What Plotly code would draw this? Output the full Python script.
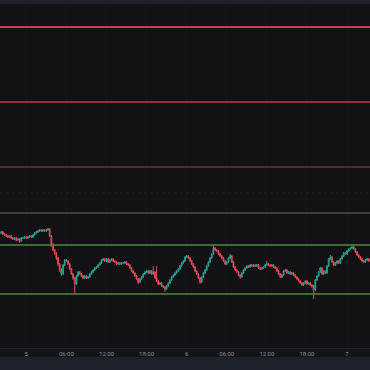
import plotly.graph_objects as go
import pandas as pd

# 15-minute candles starting 2024-03-04 20:00
start_time = "2024-03-04 20:00"

close = [
    2217, 2218, 2216, 2215, 2214, 2213, 2214, 2212, 2211, 2212,
    2210, 2211, 2209, 2212, 2212, 2213, 2212, 2213, 2214, 2213,
    2215, 2217, 2218, 2219, 2220, 2219, 2220, 2219, 2220, 2221,
    2214, 2205, 2200, 2197, 2192, 2186, 2180, 2176, 2185, 2190,
    2189, 2186, 2181, 2176, 2172, 2166, 2174, 2178, 2176, 2174,
    2172, 2174, 2172, 2173, 2176, 2178, 2180, 2182, 2183, 2185,
    2187, 2190, 2191, 2189, 2191, 2188, 2190, 2191, 2189, 2188,
    2186, 2187, 2186, 2187, 2187, 2188, 2186, 2185, 2182, 2179,
    2177, 2174, 2171, 2168, 2171, 2173, 2176, 2178, 2179, 2177,
    2179, 2176, 2178, 2172, 2169, 2166, 2167, 2164, 2163, 2161,
    2164, 2167, 2170, 2173, 2175, 2177, 2179, 2181, 2184, 2187,
    2189, 2193, 2194, 2192, 2189, 2186, 2183, 2179, 2176, 2172,
    2168, 2173, 2177, 2180, 2184, 2188, 2192, 2196, 2202, 2200,
    2199, 2196, 2194, 2192, 2189, 2186, 2188, 2192, 2194, 2188,
    2183, 2180, 2178, 2175, 2173, 2177, 2180, 2182, 2184, 2183,
    2185, 2184, 2185, 2184, 2185, 2182, 2181, 2182, 2183, 2185,
    2186, 2185, 2184, 2185, 2183, 2182, 2179, 2176, 2173, 2175,
    2179, 2180, 2177, 2178, 2176, 2177, 2175, 2173, 2171, 2169,
    2167, 2165, 2167, 2169, 2166, 2167, 2165, 2164, 2160, 2170,
    2174, 2178, 2182, 2176, 2179, 2177, 2184, 2191, 2193, 2188,
    2185, 2187, 2189, 2187, 2191, 2194, 2197, 2196, 2199, 2201,
    2202, 2203, 2201, 2198, 2195, 2193, 2191, 2189, 2188, 2190,
    2191, 2189,
]

open_ = [2216] + close[:-1]

high = [
    2218, 2219, 2219, 2217, 2216, 2215, 2215, 2215, 2213, 2213,
    2213, 2212, 2212, 2213, 2213, 2214, 2214, 2214, 2215, 2215,
    2216, 2218, 2219, 2220, 2221, 2221, 2221, 2221, 2221, 2222,
    2222, 2215, 2207, 2201, 2198, 2193, 2187, 2182, 2186, 2191,
    2191, 2190, 2187, 2182, 2177, 2173, 2175, 2179, 2179, 2177,
    2175, 2175, 2175, 2174, 2177, 2179, 2181, 2183, 2184, 2186,
    2188, 2191, 2192, 2192, 2192, 2192, 2191, 2192, 2192, 2190,
    2189, 2188, 2188, 2188, 2188, 2189, 2189, 2187, 2186, 2183,
    2180, 2178, 2175, 2172, 2172, 2174, 2177, 2179, 2180, 2180,
    2180, 2180, 2184, 2179, 2184, 2170, 2168, 2168, 2165, 2164,
    2165, 2168, 2171, 2174, 2176, 2178, 2180, 2182, 2185, 2188,
    2190, 2194, 2195, 2195, 2193, 2190, 2187, 2184, 2180, 2177,
    2173, 2174, 2178, 2181, 2185, 2189, 2193, 2197, 2205, 2203,
    2201, 2200, 2197, 2195, 2193, 2190, 2189, 2193, 2196, 2195,
    2189, 2184, 2181, 2179, 2176, 2178, 2181, 2183, 2185, 2185,
    2186, 2186, 2186, 2186, 2186, 2186, 2183, 2183, 2184, 2186,
    2189, 2187, 2186, 2186, 2186, 2184, 2183, 2180, 2177, 2176,
    2180, 2181, 2181, 2179, 2179, 2178, 2178, 2176, 2174, 2172,
    2170, 2168, 2168, 2170, 2170, 2168, 2168, 2166, 2165, 2171,
    2175, 2179, 2183, 2183, 2180, 2180, 2185, 2192, 2195, 2194,
    2189, 2188, 2190, 2190, 2192, 2195, 2198, 2198, 2200, 2202,
    2203, 2205, 2204, 2202, 2199, 2196, 2194, 2192, 2190, 2191,
    2192, 2192,
]

low = [
    2215, 2216, 2215, 2214, 2213, 2212, 2212, 2211, 2210, 2210,
    2209, 2209, 2207, 2208, 2211, 2211, 2211, 2211, 2212, 2212,
    2212, 2214, 2216, 2217, 2218, 2218, 2218, 2218, 2218, 2219,
    2213, 2203, 2199, 2195, 2190, 2184, 2178, 2174, 2175, 2184,
    2188, 2185, 2180, 2175, 2170, 2156, 2165, 2173, 2175, 2173,
    2171, 2171, 2171, 2171, 2172, 2175, 2177, 2179, 2181, 2182,
    2184, 2186, 2189, 2188, 2188, 2187, 2187, 2189, 2188, 2187,
    2185, 2185, 2185, 2185, 2186, 2186, 2185, 2184, 2181, 2178,
    2176, 2173, 2170, 2166, 2167, 2170, 2172, 2175, 2177, 2176,
    2176, 2175, 2175, 2171, 2168, 2165, 2165, 2163, 2162, 2158,
    2160, 2163, 2166, 2169, 2172, 2174, 2176, 2178, 2180, 2183,
    2186, 2188, 2192, 2191, 2188, 2185, 2182, 2178, 2175, 2171,
    2166, 2167, 2172, 2176, 2179, 2183, 2187, 2191, 2195, 2199,
    2198, 2195, 2193, 2191, 2188, 2185, 2185, 2187, 2191, 2187,
    2182, 2179, 2177, 2174, 2171, 2172, 2176, 2179, 2181, 2182,
    2182, 2183, 2183, 2183, 2183, 2181, 2180, 2180, 2181, 2182,
    2184, 2184, 2183, 2183, 2182, 2181, 2178, 2175, 2172, 2172,
    2174, 2178, 2176, 2176, 2175, 2175, 2174, 2172, 2170, 2168,
    2166, 2164, 2164, 2166, 2165, 2165, 2164, 2162, 2151, 2159,
    2169, 2173, 2177, 2175, 2175, 2176, 2176, 2183, 2190, 2187,
    2184, 2184, 2186, 2186, 2186, 2190, 2193, 2195, 2195, 2198,
    2200, 2201, 2200, 2197, 2194, 2192, 2190, 2188, 2187, 2187,
    2189, 2188,
]

# Horizontal levels
resistance_levels = [2423, 2348, 2283]
faint_level = 2257
mid_level = 2237
range_top = 2205
range_bottom = 2156

tick_times = ["2024-03-05 00:00", "2024-03-05 06:00", "2024-03-05 12:00", "2024-03-05 18:00",
              "2024-03-06 00:00", "2024-03-06 06:00", "2024-03-06 12:00", "2024-03-06 18:00",
              "2024-03-07 00:00"]
tick_labels = ["5", "06:00", "12:00", "18:00", "6", "06:00", "12:00", "18:00", "7"]

times = pd.date_range(start_time, periods=len(close), freq="15min")

fig = go.Figure()
fig.add_trace(go.Candlestick(
    x=times, open=open_, high=high, low=low, close=close,
    increasing=dict(line=dict(color="#22a091", width=1), fillcolor="#22a091"),
    decreasing=dict(line=dict(color="#e04a55", width=1), fillcolor="#e04a55"),
    whiskerwidth=0, showlegend=False, hoverinfo="skip",
))

shapes = []
res_styles = [("#c8404e", 2), ("#c23a48", 1.5), ("#a8343f", 1)]
for lvl, (col, w) in zip(resistance_levels, res_styles):
    shapes.append(dict(type="line", xref="paper", x0=0, x1=1, yref="y", y0=lvl, y1=lvl,
                       line=dict(color=col, width=w)))
shapes.append(dict(type="line", xref="paper", x0=0, x1=1, yref="y", y0=faint_level, y1=faint_level,
                   line=dict(color="#2c181c", width=1, dash="dot")))
shapes.append(dict(type="line", xref="paper", x0=0, x1=1, yref="y", y0=mid_level, y1=mid_level,
                   line=dict(color="#5a6e5c", width=1)))
for lvl in (range_top, range_bottom):
    shapes.append(dict(type="line", xref="paper", x0=0, x1=1, yref="y", y0=lvl, y1=lvl,
                       line=dict(color="#4e8a3c", width=1.5)))
# dark band behind the time labels
shapes.append(dict(type="rect", xref="paper", yref="paper", x0=0, x1=1, y0=-9 / 344, y1=0,
                   fillcolor="#131418", line=dict(width=0), layer="below"))

fig.update_layout(
    width=370, height=370,
    margin=dict(l=0, r=0, t=4, b=22),
    paper_bgcolor="#1e222d",
    plot_bgcolor="#121215",
    shapes=shapes,
    xaxis=dict(
        type="date",
        range=["2024-03-04 20:04", "2024-03-07 03:26"],
        rangeslider=dict(visible=False),
        tickvals=tick_times, ticktext=tick_labels,
        tickfont=dict(size=6, color="#8c8f98", family="Roboto"),
        ticks="", ticklen=0,
        showgrid=True, gridcolor="#15161a", gridwidth=1,
        showline=True, linecolor="#24262d", linewidth=1,
        zeroline=False,
    ),
    yaxis=dict(
        range=[2102, 2446],
        showticklabels=False, showgrid=False,
        zeroline=False, showline=False,
    ),
)

fig.write_html("out.html")
